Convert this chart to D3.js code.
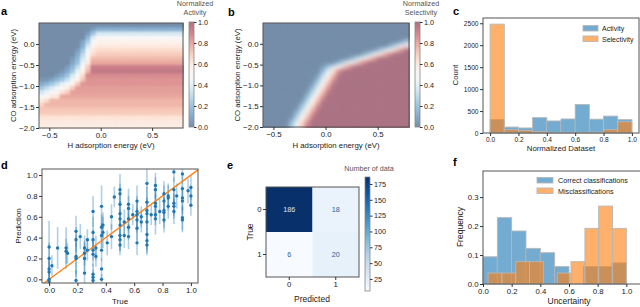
<!DOCTYPE html>
<html>
<head>
<meta charset="utf-8">
<script src="https://cdn.jsdelivr.net/npm/d3@7"></script>
<style>
  body { margin: 0; background: #fff; }
  svg text { font-family: "Liberation Sans", Arial, sans-serif; }
</style>
</head>
<body>
<div id="chart"></div>
<script>
// ---------- data ----------
// heatmap grid (cell centres)
const hCenters = [-0.575, -0.525, -0.475, -0.425, -0.375, -0.325, -0.275, -0.225, -0.175, -0.125,
  -0.075, -0.025, 0.025, 0.075, 0.125, 0.175, 0.225, 0.275, 0.325, 0.375,
  0.425, 0.475, 0.525, 0.575, 0.625, 0.675, 0.725, 0.775];
const coCenters = [0.45, 0.35, 0.25, 0.15, 0.05, -0.05, -0.15, -0.25, -0.35, -0.45, -0.55, -0.65, -0.75,
  -0.85, -0.95, -1.05, -1.15, -1.25, -1.35, -1.45, -1.55, -1.65, -1.75, -1.85, -1.95];

// normalized activity (%), one row per CO value, top to bottom
const activityGrid = [
  [0,0,0,0,0,0,0,0,0,0,0,0,0,0,0,0,0,0,0,0,0,0,0,0,0,0,0,0],
  [0,0,0,0,0,0,0,0,0,0,5,12,12,12,12,12,12,12,12,12,12,12,12,12,12,12,12,12],
  [0,0,0,0,0,0,0,0,0,5,20,35,35,35,35,35,35,35,35,35,35,35,35,35,35,35,35,35],
  [0,0,0,0,0,0,0,0,0,15,38,50,50,50,50,50,50,50,50,50,50,50,50,50,50,50,50,50],
  [0,0,0,0,0,0,0,0,8,25,48,55,55,55,55,55,55,55,55,55,55,55,55,55,55,55,55,55],
  [0,0,0,0,0,0,0,0,12,35,55,60,60,60,60,60,60,60,60,60,60,60,60,60,60,60,60,60],
  [0,0,0,0,0,0,0,5,20,45,60,65,65,65,65,65,65,65,65,65,65,65,65,65,65,65,65,65],
  [0,0,0,0,0,0,0,10,28,50,65,70,70,70,70,70,70,70,70,70,70,70,70,70,70,70,70,70],
  [0,0,0,0,0,0,5,15,35,55,75,75,75,75,75,75,75,75,75,75,75,75,75,75,75,75,75,75],
  [0,0,0,0,0,0,8,20,42,60,80,80,80,80,80,80,80,80,80,80,80,80,80,80,80,80,80,80],
  [0,0,0,0,0,5,15,30,50,70,92,92,92,92,92,92,92,92,92,92,92,92,92,92,92,92,92,92],
  [0,0,0,0,3,10,22,40,55,75,95,95,95,95,95,95,95,95,95,95,95,95,95,95,95,95,95,95],
  [0,0,0,5,10,20,35,50,65,88,88,88,88,88,88,88,88,88,88,88,88,88,88,88,88,88,88,88],
  [3,3,8,15,22,32,45,55,72,85,85,85,85,85,85,85,85,85,85,85,85,85,85,85,85,85,85,85],
  [10,15,22,30,40,48,55,70,85,85,85,85,85,85,85,85,85,85,85,85,85,85,85,85,85,85,85,85],
  [22,30,38,45,50,58,70,82,82,82,82,82,82,82,82,82,82,82,82,82,82,82,82,82,82,82,82,82],
  [35,42,50,55,62,70,82,82,82,82,82,82,82,82,82,82,82,82,82,82,82,82,82,82,82,82,82,82],
  [50,50,60,60,80,80,80,80,80,80,80,80,80,80,80,80,80,80,80,80,80,80,80,80,80,80,80,80],
  [60,65,76,76,76,76,76,76,76,76,76,76,76,76,76,76,76,76,76,76,76,76,76,76,76,76,76,76],
  [68,76,76,76,76,76,76,76,76,76,76,76,76,76,76,76,76,76,76,76,76,76,76,76,76,76,76,76],
  [72,72,72,72,72,72,72,72,72,72,72,72,72,72,72,72,72,72,72,72,72,72,72,72,72,72,72,72],
  [70,70,70,70,70,70,70,70,70,70,70,70,70,70,70,70,70,70,70,70,70,70,70,70,70,70,70,70],
  [62,62,62,62,62,62,62,62,62,62,62,62,62,62,62,62,62,62,62,62,62,62,62,62,62,62,62,62],
  [60,60,60,60,60,60,60,60,60,60,60,60,60,60,60,60,60,60,60,60,60,60,60,60,60,60,60,60],
  [58,58,58,58,58,58,58,58,58,58,58,58,58,58,58,58,58,58,58,58,58,58,58,58,58,58,58,58]
];

// normalized selectivity (%)
const selectivityGrid = [
  [0,0,0,0,0,0,0,0,0,0,0,0,0,0,0,0,0,0,0,0,0,0,0,0,0,0,0,0],
  [0,0,0,0,0,0,0,0,0,0,0,0,0,0,0,0,0,0,0,0,0,0,0,0,0,0,0,0],
  [0,0,0,0,0,0,0,0,0,0,0,0,0,0,0,0,0,0,0,0,0,0,0,0,0,0,0,0],
  [0,0,0,0,0,0,0,0,0,0,0,0,0,0,0,0,0,0,0,0,0,0,0,0,0,0,0,0],
  [0,0,0,0,0,0,0,0,0,0,0,0,0,0,0,0,0,0,0,0,0,0,0,0,0,0,7,23],
  [0,0,0,0,0,0,0,0,0,0,0,0,0,0,0,0,0,0,0,0,0,0,0,0,14,30,45,61],
  [0,0,0,0,0,0,0,0,0,0,0,0,0,0,0,0,0,0,0,0,0,6,22,37,53,68,84,100],
  [0,0,0,0,0,0,0,0,0,0,0,0,0,0,0,0,0,0,0,14,29,45,60,76,91,100,100,100],
  [0,0,0,0,0,0,0,0,0,0,0,0,0,0,0,0,5,21,36,52,68,83,99,100,100,100,100,100],
  [0,0,0,0,0,0,0,0,0,0,0,0,0,0,13,28,44,59,75,90,100,100,100,100,100,100,100,100],
  [0,0,0,0,0,0,0,0,0,0,0,5,20,35,51,66,82,98,100,100,100,100,100,100,100,100,100,100],
  [0,0,0,0,0,0,0,0,0,0,0,16,39,62,85,100,100,100,100,100,100,100,100,100,100,100,100,100],
  [0,0,0,0,0,0,0,0,0,0,5,28,50,73,96,100,100,100,100,100,100,100,100,100,100,100,100,100],
  [0,0,0,0,0,0,0,0,0,0,16,39,61,84,100,100,100,100,100,100,100,100,100,100,100,100,100,100],
  [0,0,0,0,0,0,0,0,0,5,27,50,73,95,100,100,100,100,100,100,100,100,100,100,100,100,100,100],
  [0,0,0,0,0,0,0,0,0,15,38,61,83,100,100,100,100,100,100,100,100,100,100,100,100,100,100,100],
  [0,0,0,0,0,0,0,0,4,26,49,72,94,100,100,100,100,100,100,100,100,100,100,100,100,100,100,100],
  [0,0,0,0,0,0,0,0,15,37,60,83,100,100,100,100,100,100,100,100,100,100,100,100,100,100,100,100],
  [0,0,0,0,0,0,0,3,26,49,71,94,100,100,100,100,100,100,100,100,100,100,100,100,100,100,100,100],
  [0,0,0,0,0,0,0,14,37,60,82,100,100,100,100,100,100,100,100,100,100,100,100,100,100,100,100,100],
  [0,0,0,0,0,0,3,25,48,71,93,100,100,100,100,100,100,100,100,100,100,100,100,100,100,100,100,100],
  [0,0,0,0,0,0,14,36,59,82,100,100,100,100,100,100,100,100,100,100,100,100,100,100,100,100,100,100],
  [0,0,0,0,0,2,25,47,70,93,100,100,100,100,100,100,100,100,100,100,100,100,100,100,100,100,100,100],
  [0,0,0,0,0,13,36,59,81,100,100,100,100,100,100,100,100,100,100,100,100,100,100,100,100,100,100,100],
  [0,0,0,0,1,24,47,70,92,100,100,100,100,100,100,100,100,100,100,100,100,100,100,100,100,100,100,100]
];
const hTicks = [-0.5, 0.0, 0.5];
const coTicks = [-2.0, -1.5, -1.0, -0.5, 0.0];
const cbarTicks = [0, 0.2, 0.4, 0.6, 0.8, 1.0];

// c: histogram of the normalized dataset
const histEdges = [0, 0.1, 0.2, 0.3, 0.4, 0.5, 0.6, 0.7, 0.8, 0.9, 1.0];
const activityCounts = [305, 135, 115, 350, 275, 320, 650, 315, 385, 305];
const selectivityCounts = [2480, 75, 60, 30, 15, 15, 15, 20, 75, 255];
const countTicks = [0, 500, 1000, 1500, 2000, 2500];
const unitTicks = [0, 0.2, 0.4, 0.6, 0.8, 1.0];

// d: prediction vs true with uncertainty
const dTrue = [0,0,0,0,0,0, 0.02, 0.06, 0.12,0.12, 0.13, 0.19,0.19,0.19,0.19,0.19, 0.22,
  0.25,0.25,0.25,0.25, 0.27,0.27, 0.31,0.31,0.31,0.31,0.31,0.31,0.31,0.31, 0.33,0.33,
  0.37,0.37,0.37,0.37,0.37,0.37, 0.38,0.38, 0.41, 0.44,0.44, 0.46,
  0.5,0.5,0.5,0.5,0.5,0.5,0.5,0.5,0.5, 0.53,0.53, 0.56,0.56,0.56,0.56,0.56, 0.59,
  0.62,0.62,0.62,0.62,0.62,0.62, 0.65,0.65, 0.69,0.69,0.69,0.69,0.69,0.69,0.69,0.69, 0.72,
  0.75,0.75,0.75,0.75,0.75,0.75, 0.78, 0.81,0.81,0.81,0.81,0.81, 0.84,0.84,0.84,
  0.88,0.88,0.88,0.88,0.88, 0.9, 0.94,0.94,0.94,0.94,0.94,0.94, 0.98, 1,1,1];
const dPred = [0.31,0.2,0.1,0.07,0.0,-0.02, 0.13, 0.30, 0.30,0.27, 0.25, 0.46,0.38,0.22,0.2,-0.01, 0.41,
  0.30,0.25,0.2,0.06, 0.38,0.28, 0.65,0.45,0.38,0.28,0.24,0.05,0.02,-0.01, 0.3,0.22,
  0.7,0.5,0.42,0.28,0.1,0.0, 0.52,0.45, 0.35, 0.6,0.41, 0.79,
  0.86,0.82,0.72,0.63,0.58,0.52,0.42,0.38,0.33, 0.55,0.42, 0.72,0.68,0.58,0.5,0.41, 0.62,
  0.75,0.65,0.62,0.57,0.49,0.35, 0.6,0.55, 0.92,0.74,0.66,0.63,0.55,0.43,0.37,0.33, 0.62,
  0.9,0.86,0.73,0.7,0.62,0.58, 0.65, 0.82,0.75,0.66,0.64,0.57, 0.8,0.78,0.7,
  1.03,0.86,0.73,0.7,0.65, 0.8, 1.01,0.87,0.78,0.75,0.59,0.57, 0.85, 0.88,0.8,0.71];
const dErr = [0.25,0.15,0.12,0.1,0.1,0.08, 0.1, 0.2, 0.2,0.12, 0.1, 0.15,0.12,0.2,0.15,0.1, 0.12,
  0.12,0.12,0.15,0.12, 0.1,0.1, 0.15,0.15,0.1,0.1,0.12,0.1,0.08,0.05, 0.12,0.1,
  0.2,0.12,0.12,0.1,0.1,0.05, 0.12,0.15, 0.12, 0.12,0.12, 0.1,
  0.15,0.1,0.15,0.12,0.15,0.15,0.15,0.1,0.1, 0.12,0.12, 0.15,0.12,0.12,0.12,0.12, 0.1,
  0.15,0.15,0.12,0.12,0.12,0.12, 0.1,0.1, 0.15,0.15,0.12,0.15,0.12,0.15,0.12,0.1, 0.1,
  0.12,0.12,0.15,0.12,0.1,0.15, 0.12, 0.12,0.15,0.12,0.15,0.12, 0.12,0.12,0.12,
  0.1,0.12,0.12,0.12,0.12, 0.12, 0.1,0.12,0.12,0.12,0.12,0.12, 0.12, 0.12,0.1,0.1];

// e: confusion matrix
const classes = [0, 1];
const confusion = [[186, 18], [6, 20]];
const confTicks = [25, 50, 75, 100, 125, 150, 175];

// f: uncertainty histograms (frequency)
const corrEdges = [0, 0.1, 0.2, 0.3, 0.4, 0.5, 0.6, 0.7, 0.8, 0.9, 1.0];
const corrFreq = [0.094, 0.229, 0.183, 0.123, 0.108, 0.06, 0.0, 0.06, 0.06, 0.073];
const misEdges = [0.035, 0.132, 0.228, 0.325, 0.421, 0.518, 0.614, 0.711, 0.807, 0.904, 1.0];
const misFreq = [0.038, 0.038, 0.077, 0.077, 0.0, 0.038, 0.077, 0.192, 0.269, 0.192];
const freqTicks = [0, 0.1, 0.2, 0.3];

// ---------- setup ----------
const FONT = '"Liberation Sans", Arial, sans-serif';
const BLUE = "#1f77b4", ORANGE = "#ff7f0e";
const svg = d3.select("#chart").append("svg")
    .attr("width", 640)
    .attr("height", 307);
const defs = svg.append("defs");

// RdBu_r drawn at partial opacity over white
function heatColor(v) {
  const c = d3.rgb(d3.interpolateRdBu(1 - v)), a = 0.55;
  return d3.rgb(c.r * a + 255 * (1 - a), c.g * a + 255 * (1 - a), c.b * a + 255 * (1 - a)).toString();
}

function styleAxis(g, fs) {
  g.attr("font-family", FONT);
  g.select(".domain").remove();
  g.selectAll(".tick line").attr("stroke", "#333");
  g.selectAll(".tick text").attr("font-size", fs).attr("fill", "#222");
}

function frame(x0, x1, y0, y1) {
  svg.append("rect")
      .attr("x", x0).attr("y", y0)
      .attr("width", x1 - x0).attr("height", y1 - y0)
      .attr("fill", "none")
      .attr("stroke", "#555")
      .attr("stroke-width", 1);
}

function label(txt, x, y, fs, rotate, opts) {
  const t = svg.append("text")
      .attr("font-size", fs)
      .attr("text-anchor", (opts && opts.anchor) || "middle")
      .attr("fill", (opts && opts.fill) || "#222")
      .attr("font-weight", (opts && opts.bold) ? "bold" : null)
      .text(txt);
  if (rotate) t.attr("transform", "translate(" + x + "," + y + ") rotate(-90)");
  else t.attr("x", x).attr("y", y);
  return t;
}

function colorbar(id, x0, y0, w, h, domain, colorFn, ticks, fmt) {
  const grad = defs.append("linearGradient").attr("id", id)
      .attr("x1", 0).attr("y1", 1).attr("x2", 0).attr("y2", 0);
  d3.range(0, 1.0001, 0.05).forEach(t => {
    grad.append("stop").attr("offset", t).attr("stop-color", colorFn(domain[0] + t * (domain[1] - domain[0])));
  });
  svg.append("rect").attr("x", x0).attr("y", y0).attr("width", w).attr("height", h)
      .attr("fill", "url(#" + id + ")").attr("stroke", "#888").attr("stroke-width", 0.8);
  const s = d3.scaleLinear().domain(domain).range([y0 + h, y0]);
  svg.append("g")
      .attr("transform", "translate(" + (x0 + w) + ",0)")
      .call(d3.axisRight(s).tickValues(ticks).tickSize(2.5).tickPadding(1.5).tickFormat(fmt))
      .call(g => styleAxis(g, 7.2));
}

// ---------- a & b: heatmaps ----------
function heatPanel(grid, box, blur, id, cbarX, cbarTitle) {
  const x = d3.scaleLinear().domain([-0.6, 0.8]).range([box.x0, box.x1]);
  const y = d3.scaleLinear().domain([-2.0, 0.5]).range([box.y1, box.y0]);
  const xb = d3.scaleBand().domain(hCenters).range([box.x0, box.x1]);
  const yb = d3.scaleBand().domain(coCenters).range([box.y0, box.y1]);

  const f = defs.append("filter").attr("id", id)
      .attr("x", 0).attr("y", 0).attr("width", 1).attr("height", 1)
      .attr("color-interpolation-filters", "sRGB");
  f.append("feGaussianBlur").attr("stdDeviation", blur);
  f.append("feComponentTransfer").append("feFuncA")
      .attr("type", "table").attr("tableValues", "0 1 1 1 1 1 1 1 1 1");

  const cells = [];
  grid.forEach((row, j) => row.forEach((v, i) => cells.push({h: hCenters[i], co: coCenters[j], v: v / 100})));

  svg.append("g").attr("filter", "url(#" + id + ")")
    .selectAll("rect")
    .data(cells)
    .join("rect")
      .attr("x", d => xb(d.h))
      .attr("y", d => yb(d.co))
      .attr("width", xb.bandwidth() + 0.3)
      .attr("height", yb.bandwidth() + 0.3)
      .attr("fill", d => heatColor(d.v));

  frame(box.x0, box.x1, box.y0, box.y1);

  svg.append("g")
      .attr("transform", "translate(0," + box.y1 + ")")
      .call(d3.axisBottom(x).tickValues(hTicks).tickSize(3).tickPadding(1.5).tickFormat(d3.format(".1f")))
      .call(g => styleAxis(g, 7.8));
  svg.append("g")
      .attr("transform", "translate(" + box.x0 + ",0)")
      .call(d3.axisLeft(y).tickValues(coTicks).tickSize(3).tickPadding(1.5).tickFormat(d3.format(".1f")))
      .call(g => styleAxis(g, 7.8));

  label("H adsorption energy (eV)", (box.x0 + box.x1) / 2, 148, 7.8);
  label("CO adsorption energy (eV)", box.x0 - 23, (box.y0 + box.y1) / 2, 7.8, true);

  colorbar(id + "grad", cbarX, 22, 5, 105, [0, 1], heatColor, cbarTicks, d3.format(".1f"));
  label("Normalized", cbarX + 6, 6, 7.2, false, {fill: "#555"});
  label(cbarTitle, cbarX + 6, 15, 7.2, false, {fill: "#555"});
}

heatPanel(activityGrid, {x0: 39, x1: 183, y0: 23, y1: 128}, 1.2, "heatA", 189, "Activity");
heatPanel(selectivityGrid, {x0: 263, x1: 409, y0: 23, y1: 127}, 2.2, "heatB", 415, "Selectivity");

// ---------- c: histogram ----------
{
  const x = d3.scaleLinear().domain([-0.05, 1.05]).range([483, 639]);
  const y = d3.scaleLinear().domain([0, 2620]).range([133, 18]);
  const bins = (counts) => counts.map((c, i) => ({x0: histEdges[i], x1: histEdges[i + 1], c}));

  [[activityCounts, BLUE], [selectivityCounts, ORANGE]].forEach(([counts, col]) => {
    svg.append("g").selectAll("rect")
      .data(bins(counts))
      .join("rect")
        .attr("x", d => x(d.x0))
        .attr("y", d => y(d.c))
        .attr("width", d => x(d.x1) - x(d.x0))
        .attr("height", d => y(0) - y(d.c))
        .attr("fill", col)
        .attr("fill-opacity", 0.62)
        .attr("stroke", "#b8b8b8")
        .attr("stroke-width", 0.9);
  });
  frame(483, 639, 18, 133);
  svg.append("g").attr("transform", "translate(0,133)")
      .call(d3.axisBottom(x).tickValues(unitTicks).tickSize(3).tickPadding(1.5).tickFormat(d3.format(".1f")))
      .call(g => styleAxis(g, 6.6));
  svg.append("g").attr("transform", "translate(483,0)")
      .call(d3.axisLeft(y).tickValues(countTicks).tickSize(3).tickPadding(1.5).tickFormat(d3.format("d")))
      .call(g => styleAxis(g, 6.6));
  label("Normalized Dataset", 561, 151, 7.8);
  label("Count", 458, 75, 7.8, true);

  const leg = [["Activity", BLUE], ["Selectivity", ORANGE]];
  leg.forEach(([name, col], i) => {
    svg.append("rect").attr("x", 583).attr("y", 25.5 + i * 10.5).attr("width", 15).attr("height", 5.5)
        .attr("fill", col).attr("fill-opacity", 0.62).attr("stroke", "#b8b8b8").attr("stroke-width", 0.9);
    label(name, 602, 31 + i * 10.5, 7, false, {anchor: "start"});
  });
}

// ---------- d: prediction vs truth ----------
{
  const x = d3.scaleLinear().domain([-0.05, 1.05]).range([42, 198]);
  const y = d3.scaleLinear().domain([-0.035, 1.058]).range([283, 169]);
  defs.append("clipPath").attr("id", "clipD")
    .append("rect").attr("x", 42).attr("y", 169).attr("width", 156).attr("height", 114);
  const pts = dTrue.map((t, i) => ({t, p: dPred[i], e: dErr[i]}));
  const g = svg.append("g").attr("clip-path", "url(#clipD)");

  g.selectAll("line.err")
    .data(pts)
    .join("line")
      .attr("class", "err")
      .attr("x1", d => x(d.t)).attr("x2", d => x(d.t))
      .attr("y1", d => y(d.p - d.e)).attr("y2", d => y(d.p + d.e))
      .attr("stroke", BLUE)
      .attr("stroke-opacity", 0.35)
      .attr("stroke-width", 1.6);

  const dom = x.domain();
  g.append("line")
      .attr("x1", x(dom[0])).attr("y1", y(dom[0]))
      .attr("x2", x(dom[1])).attr("y2", y(dom[1]))
      .attr("stroke", ORANGE)
      .attr("stroke-width", 1.3);

  g.selectAll("circle")
    .data(pts)
    .join("circle")
      .attr("cx", d => x(d.t))
      .attr("cy", d => y(d.p))
      .attr("r", 1.7)
      .attr("fill", BLUE);

  frame(42, 198, 169, 283);
  svg.append("g").attr("transform", "translate(0,283)")
      .call(d3.axisBottom(x).tickValues(unitTicks).tickSize(3).tickPadding(1.5).tickFormat(d3.format(".1f")))
      .call(g => styleAxis(g, 7.8));
  svg.append("g").attr("transform", "translate(42,0)")
      .call(d3.axisLeft(y).tickValues(unitTicks).tickSize(3).tickPadding(1.5).tickFormat(d3.format(".1f")))
      .call(g => styleAxis(g, 7.8));
  label("True", 120, 304, 8);
  label("Prediction", 21, 226, 8, true);
}

// ---------- e: confusion matrix ----------
{
  const xb = d3.scaleBand().domain(classes).range([266, 359]);
  const yb = d3.scaleBand().domain(classes).range([187, 277]);
  const color = d3.scaleSequential(d3.interpolateBlues).domain([6, 186]);
  const cells = confusion.flatMap((row, i) => row.map((v, j) => ({t: classes[i], p: classes[j], v})));

  svg.append("g").selectAll("rect")
    .data(cells)
    .join("rect")
      .attr("x", d => xb(d.p))
      .attr("y", d => yb(d.t))
      .attr("width", xb.bandwidth())
      .attr("height", yb.bandwidth())
      .attr("fill", d => color(d.v));
  svg.append("g").selectAll("text")
    .data(cells)
    .join("text")
      .attr("x", d => xb(d.p) + xb.bandwidth() / 2)
      .attr("y", d => yb(d.t) + yb.bandwidth() / 2 + 2.5)
      .attr("text-anchor", "middle")
      .attr("font-size", 7.2)
      .attr("fill", d => d.v > 100 ? "#dfe8f3" : "#2b5c99")
      .text(d => d.v);

  frame(266, 359, 187, 277);
  svg.append("g").attr("transform", "translate(0,277)")
      .call(d3.axisBottom(xb).tickSize(3).tickPadding(1.5))
      .call(g => styleAxis(g, 7.8));
  svg.append("g").attr("transform", "translate(266,0)")
      .call(d3.axisLeft(yb).tickSize(3).tickPadding(1.5))
      .call(g => styleAxis(g, 7.8));
  label("Predicted", 312, 302, 8.5);
  label("True", 253, 232, 8.5, true);

  colorbar("confGrad", 365, 177, 5, 114, [6, 186], v => color(v), confTicks, d3.format("d"));
  label("Number of data", 369, 171, 7.2, false, {fill: "#555"});
}

// ---------- f: uncertainty histograms ----------
{
  const x = d3.scaleLinear().domain([0, 1.2]).range([483, 655]);
  const y = d3.scaleLinear().domain([0, 0.39]).range([284, 171]);
  const toBins = (edges, freq) => freq.map((v, i) => ({x0: edges[i], x1: edges[i + 1], v}));

  [[toBins(corrEdges, corrFreq), BLUE], [toBins(misEdges, misFreq), ORANGE]].forEach(([bins, col]) => {
    svg.append("g").selectAll("rect")
      .data(bins.filter(d => d.v > 0))
      .join("rect")
        .attr("x", d => x(d.x0))
        .attr("y", d => y(d.v))
        .attr("width", d => x(d.x1) - x(d.x0))
        .attr("height", d => y(0) - y(d.v))
        .attr("fill", col)
        .attr("fill-opacity", 0.62)
        .attr("stroke", "#b8b8b8")
        .attr("stroke-width", 0.9);
  });
  frame(483, 655, 171, 284);
  svg.append("g").attr("transform", "translate(0,284)")
      .call(d3.axisBottom(x).tickValues(unitTicks).tickSize(3).tickPadding(1.5).tickFormat(d3.format(".1f")))
      .call(g => styleAxis(g, 7.8));
  svg.append("g").attr("transform", "translate(483,0)")
      .call(d3.axisLeft(y).tickValues(freqTicks).tickSize(3).tickPadding(1.5).tickFormat(d3.format(".1f")))
      .call(g => styleAxis(g, 7.8));
  label("Uncertainty", 569, 304, 8.5);
  label("Frequency", 463, 227, 8.5, true);

  const leg = [["Correct classifications", BLUE], ["Misclassifications", ORANGE]];
  leg.forEach(([name, col], i) => {
    svg.append("rect").attr("x", 537).attr("y", 177.5 + i * 10.5).attr("width", 16).attr("height", 5.5)
        .attr("fill", col).attr("fill-opacity", 0.62).attr("stroke", "#b8b8b8").attr("stroke-width", 0.9);
    label(name, 558, 183 + i * 10.5, 7.2, false, {anchor: "start"});
  });
}

// ---------- panel letters ----------
[["a", 1, 15], ["b", 228, 16], ["c", 453, 15], ["d", 1, 169], ["e", 227, 169], ["f", 453, 166]]
  .forEach(([t, x, y]) => label(t, x, y, 11, false, {anchor: "start", bold: true, fill: "#000"}));
</script>
</body>
</html>
